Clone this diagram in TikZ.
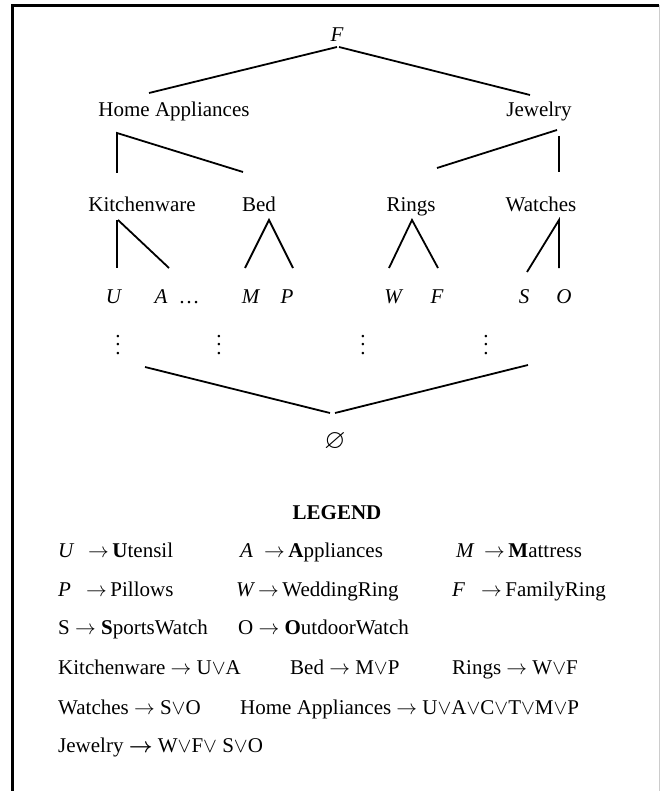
\documentclass[tikz,border=0pt]{standalone}
\usepackage{amsmath,amssymb}
\usepackage{fontspec}
\setmainfont{Liberation Serif}
\usetikzlibrary{calc}
% three stacked dots, spaced for the large text size
\newcommand{\tallvdots}{\vbox{\baselineskip=8.5pt\lineskiplimit=0pt\hbox{.}\hbox{.}\hbox{.}}}
\begin{document}
\begin{tikzpicture}[x=1pt,y=-1pt,
  lbl/.style={anchor=base, inner sep=0pt, font=\fontsize{21}{25}\selectfont},
  item/.style={anchor=base west, inner sep=0pt, font=\fontsize{21}{25}\selectfont},
  dotsnode/.style={anchor=center, inner sep=0pt, font=\fontsize{21}{25}\selectfont},
  branch/.style={line width=1.8pt, line cap=butt}]
\useasboundingbox (0,0) rectangle (660,791);
\fill[white] (0,0) rectangle (660,791);
% frame
\draw[black!20, line width=0.8pt] (659.3,5) -- (659.3,791);
\draw[line width=2.6pt] (12.5,5.5) -- (659,5.5);
\draw[line width=2.6pt] (12.5,4.2) -- (12.5,791);

% tree nodes
\node[lbl] (F) at (337,42) {\textit{F}};
\node[lbl] (HA) at (174,117) {Home Appliances};
\node[lbl] (J) at (539,117) {Jewelry};
\node[lbl] (K) at (142,212) {Kitchenware};
\node[lbl] (B) at (259,212) {Bed};
\node[lbl] (R) at (411,212) {Rings};
\node[lbl] (Wa) at (541,212) {Watches};
\node[lbl] (U) at (114,303) {\textit{U}};
\node[lbl] (A) at (161,303) {\textit{A}};
\node[lbl] (etc) at (189,303) {\ldots};
\node[lbl] (M) at (251,303) {\textit{M}};
\node[lbl] (P) at (287,303) {\textit{P}};
\node[lbl] (W) at (394,303) {\textit{W}};
\node[lbl] (Fr) at (437,303) {\textit{F}};
\node[lbl] (S) at (524,303) {\textit{S}};
\node[lbl] (O) at (564,303) {\textit{O}};
\node[dotsnode] (d1) at (118,345) {\tallvdots};
\node[dotsnode] (d2) at (219,345) {\tallvdots};
\node[dotsnode] (d3) at (363,345) {\tallvdots};
\node[dotsnode] (d4) at (486,345) {\tallvdots};
\node[lbl] (E) at (335,448) {\scalebox{1.3}{$\varnothing$}};

% tree branches
\draw[branch] ($(F.base)+(0,5)$) -- ($(HA.base)+(-25,-24)$);
\draw[branch] ($(F.base)+(2,5)$) -- ($(J.base)+(-9,-22)$);
\draw[branch] ($(K.base)+(-25,-39)$) -- ($(HA.base)+(-57,16)$) -- ($(B.base)+(-16,-40)$);
\draw[branch] ($(J.base)+(18,13)$) -- ($(R.base)+(26,-44)$);
\draw[branch] ($(J.base)+(20,19)$) -- ($(Wa.base)+(18,-40)$);
\draw[branch] ($(K.base)+(-25,8)$) -- ($(U.base)+(3,-35)$);
\draw[branch] ($(K.base)+(-24,8)$) -- ($(A.base)+(8,-35)$);
\draw[branch] ($(M.base)+(-6,-35)$) -- ($(B.base)+(10,8)$) -- ($(P.base)+(6,-35)$);
\draw[branch] ($(W.base)+(-5,-35)$) -- ($(R.base)+(1,8)$) -- ($(Fr.base)+(1,-35)$);
\draw[branch] ($(S.base)+(3,-31)$) -- ($(Wa.base)+(18,8)$) -- ($(O.base)+(-5,-35)$);
\draw[branch] ($(d1)+(27,22)$) -- ($(E.base)+(-5,-35)$);
\draw[branch] ($(E.base)+(0,-35)$) -- ($(d4)+(42,20)$);

% legend
\node[lbl, font=\fontsize{21}{25}\selectfont\bfseries] (leg) at (337,519) {LEGEND};
\node[item] (l1a) at (58,557) {\textit{U}};
\node[item] (l1b) at (88,557) {$\rightarrow$\,\textbf{U}tensil};
\node[item] (l1c) at (240,557) {\textit{A}};
\node[item] (l1d) at (264,557) {$\rightarrow$\,\textbf{A}ppliances};
\node[item] (l1e) at (456,557) {\textit{M}};
\node[item] (l1f) at (484,557) {$\rightarrow$\,\textbf{M}attress};
\node[item] (l2a) at (58,596) {\textit{P}};
\node[item] (l2b) at (86,596) {$\rightarrow$\,Pillows};
\node[item] (l2c) at (236,596) {\textit{W}};
\node[item] (l2d) at (258,596) {$\rightarrow$\,WeddingRing};
\node[item] (l2e) at (452,596) {\textit{F}};
\node[item] (l2f) at (481,596) {$\rightarrow$\,FamilyRing};
\node[item] (l3a) at (58,634) {S $\rightarrow$ \textbf{S}portsWatch};
\node[item] (l3b) at (238,634) {O $\rightarrow$ \textbf{O}utdoorWatch};
\node[item] (l4a) at (58,674) {Kitchenware $\rightarrow$ U$\vee$A};
\node[item] (l4b) at (290,674) {Bed $\rightarrow$ M$\vee$P};
\node[item] (l4c) at (452,674) {Rings $\rightarrow$ W$\vee$F};
\node[item] (l5a) at (58,714) {Watches $\rightarrow$ S$\vee$O};
\node[item] (l5b) at (240,714) {Home Appliances $\rightarrow$ U$\vee$A$\vee$C$\vee$T$\vee$M$\vee$P};
\node[item] (l6a) at (58,752) {Jewelry $\boldsymbol{\rightarrow}$ W$\vee$F$\vee$ S$\vee$O};
\end{tikzpicture}
\end{document}
